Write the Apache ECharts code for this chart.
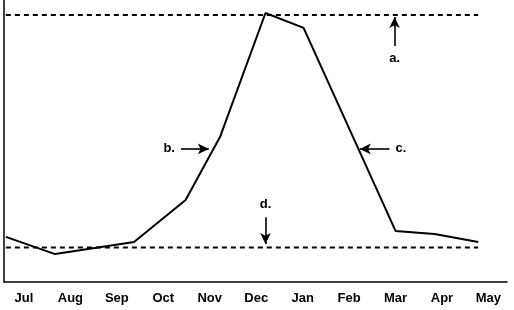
<!DOCTYPE html>
<html><head><meta charset="utf-8">
<script src="https://cdn.jsdelivr.net/npm/echarts@6/dist/echarts.min.js"></script>
<style>html,body{margin:0;padding:0;background:#fff}#c{width:514px;height:310px}</style>
</head><body><div id="c"></div>
<script>
// Month tick labels (positions 0..10 on the x value axis)
const months = ['Jul','Aug','Sep','Oct','Nov','Dec','Jan','Feb','Mar','Apr','May'];
// Curve points: x in month units, y in arbitrary units 0-100
const curveX = [-0.39, 0.67, 2.37, 3.48, 4.22, 5.20, 6.02, 8.00, 8.84, 9.78];
const curveY = [16.0, 9.9, 14.2, 29.1, 51.4, 95.4, 90.1, 18.1, 17.0, 14.2];
// Reference levels
const upperLevel = 94.7;
const lowerLevel = 12.2;
const levelSpan = [-0.39, 9.78];
// Annotation arrows: [label, x1, y1, x2, y2] (start -> arrow tip)
const arrows = [
  ['a.', 7.98, 83.7, 7.98, 94.0],
  ['b.', 3.38, 47.2, 3.98, 47.2],
  ['c.', 7.87, 47.2, 7.23, 47.2],
  ['d.', 5.20, 23.0, 5.20, 13.5]
];

const chart = echarts.init(document.getElementById('c'));
const font = 'Liberation Sans, Arial, Helvetica, sans-serif';
chart.setOption({
  animation: false,
  grid: {left: 4, right: 7, top: 0, bottom: 28},
  xAxis: {
    type: 'value', min: -0.43, max: 10.4,
    splitLine: {show: false},
    axisTick: {show: false},
    axisLine: {show: true, lineStyle: {color: '#000', width: 1.5}},
    axisLabel: {
      customValues: months.map((m, i) => i),
      formatter: v => months[Math.round(v)],
      color: '#000', fontWeight: 'bold', fontSize: 13, fontFamily: font, margin: 10
    }
  },
  yAxis: {
    type: 'value', min: 0, max: 100,
    splitLine: {show: false},
    axisTick: {show: false},
    axisLabel: {show: false},
    axisLine: {show: true, onZero: false, lineStyle: {color: '#000', width: 1.5}}
  },
  series: [
    {
      type: 'line', symbol: 'none',
      data: curveX.map((x, i) => [x, curveY[i]]),
      lineStyle: {color: '#000', width: 2},
      markLine: {
        silent: true,
        symbol: ['none', 'arrow'],
        symbolSize: [8, 11],
        lineStyle: {color: '#000', width: 1.6, type: 'solid'},
        label: {show: true, position: 'start', color: '#000', fontWeight: 'bold', fontSize: 13, fontFamily: font, distance: 6},
        data: arrows.map(a => [
          {coord: [a[1], a[2]], name: a[0], label: {formatter: a[0]}},
          {coord: [a[3], a[4]]}
        ])
      }
    },
    {
      type: 'line', symbol: 'none',
      data: levelSpan.map(x => [x, upperLevel]),
      lineStyle: {color: '#000', width: 2, type: [5, 4]}
    },
    {
      type: 'line', symbol: 'none',
      data: levelSpan.map(x => [x, lowerLevel]),
      lineStyle: {color: '#000', width: 2, type: [5, 4]}
    }
  ]
});
</script></body></html>
